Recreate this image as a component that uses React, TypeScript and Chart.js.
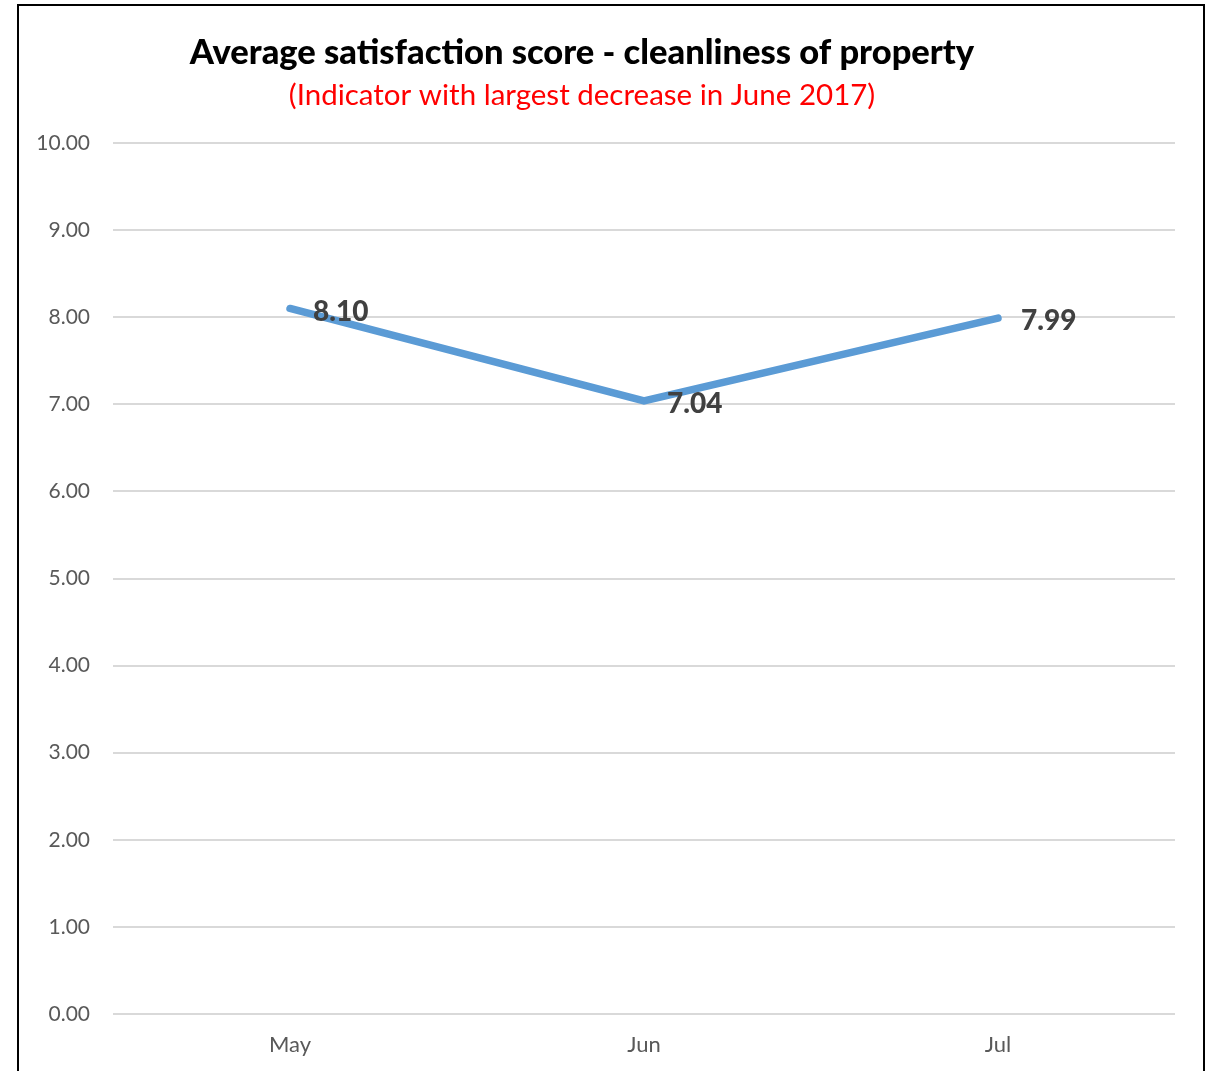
import React, { useEffect, useRef } from "react";
import { Chart, registerables } from "chart.js";

Chart.register(...registerables);

const categories = ["May", "Jun", "Jul"];
const scores = [8.1, 7.04, 7.99];
const titleText = "Average satisfaction score - cleanliness of property";
const subtitleText = "(Indicator with largest decrease in June 2017)";
const FONT = "Lato, 'Open Sans', sans-serif";

const headerPlugin = {
  id: "header",
  afterDraw(chart: any) {
    const ctx = chart.ctx;
    ctx.save();
    ctx.textAlign = "center";
    ctx.textBaseline = "middle";
    ctx.fillStyle = "#000000";
    ctx.font = `900 34.5px ${FONT}`;
    ctx.fillText(titleText, 582, 53);
    ctx.fillStyle = "#FF0000";
    ctx.font = `29.5px ${FONT}`;
    ctx.fillText(subtitleText, 582, 95);
    ctx.restore();
  },
};

const labelPlugin = {
  id: "pointLabels",
  afterDatasetsDraw(chart: any) {
    const ctx = chart.ctx;
    const meta = chart.getDatasetMeta(0);
    ctx.save();
    ctx.font = `900 28px ${FONT}`;
    ctx.fillStyle = "#404040";
    ctx.textAlign = "left";
    ctx.textBaseline = "middle";
    meta.data.forEach((pt: any, i: number) => {
      ctx.fillText(scores[i].toFixed(2), pt.x + 23, pt.y + 3);
    });
    ctx.restore();
  },
};

export default function App() {
  const ref = useRef<HTMLCanvasElement>(null);
  useEffect(() => {
    if (!ref.current) return;
    const chart = new Chart(ref.current, {
      type: "line",
      data: {
        labels: categories,
        datasets: [
          {
            data: scores,
            borderColor: "#5B9BD5",
            borderWidth: 7.5,
            borderCapStyle: "round",
            borderJoinStyle: "miter",
            pointRadius: 0,
            tension: 0,
            fill: false,
          },
        ],
      },
      options: {
        animation: false,
        responsive: false,
        maintainAspectRatio: false,
        layout: { padding: { top: 143, right: 42, left: 0, bottom: 0 } },
        plugins: {
          legend: { display: false },
          tooltip: { enabled: false },
          title: { display: false },
        },
        scales: {
          x: {
            offset: true,
            grid: { display: false, drawTicks: false },
            border: { display: false },
            ticks: { color: "#595959", font: { family: FONT, size: 22 }, padding: 18 },
            afterFit: (s: any) => {
              s.height = 57;
            },
          },
          y: {
            min: 0,
            max: 10,
            grid: { color: "#D9D9D9", lineWidth: 2, drawTicks: false },
            border: { display: false },
            ticks: {
              stepSize: 1,
              color: "#595959",
              font: { family: FONT, size: 21 },
              padding: 23,
              callback: (v: any) => Number(v).toFixed(2),
            },
            afterFit: (s: any) => {
              s.width = 113;
            },
          },
        },
      },
      plugins: [headerPlugin, labelPlugin],
    });
    return () => chart.destroy();
  }, []);
  return (
    <div style={{ position: "fixed", left: 0, top: 0, width: 1217, height: 1071, background: "#fff", overflow: "hidden" }}>
      <div
        style={{
          position: "absolute",
          left: 17,
          top: 4,
          width: 1184,
          height: 1100,
          border: "2px solid #000",
        }}
      />
      <canvas ref={ref} width={1217} height={1071} style={{ position: "absolute", left: 0, top: 0, width: 1217, height: 1071 }} />
    </div>
  );
}
